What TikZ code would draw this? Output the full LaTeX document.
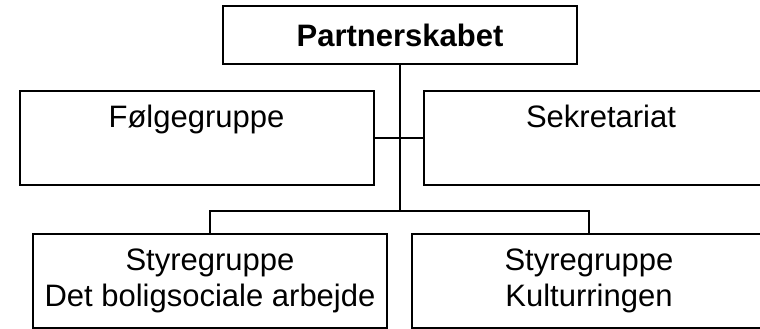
\documentclass[tikz,border=0pt]{standalone}
\usepackage{fontspec}
\setmainfont{Liberation Sans}
\usetikzlibrary{positioning}

\begin{document}
\begin{tikzpicture}[x=1pt,y=-1pt,line width=2pt,
    orgbox/.style={draw,rectangle,inner sep=0pt,minimum width=354pt,
        font=\fontsize{31}{36}\selectfont},
    highbox/.style={orgbox,text height=36pt,text depth=58pt},
    lowbox/.style={orgbox,align=center,minimum height=94pt}]
    \useasboundingbox (0,0) rectangle (760,329);

    \node[orgbox,minimum height=58pt,font=\fontsize{31}{36}\selectfont\bfseries] (part) at (400,35) {Partnerskabet};

    \node[highbox] (follow) at (196.5,138) {Følgegruppe};
    \node[highbox] (sek) at (601,138) {Sekretariat};

    \node[lowbox] (boligstyr) at (210,281) {Styregruppe\\Det boligsociale arbejde};
    \node[lowbox] (kulturstyr) at (589,281) {Styregruppe\\Kulturringen};

    \coordinate (fork) at (400,211);
    \draw (part.south) -- (fork);
    \draw (follow.east) -- (sek.west);
    \draw (fork) -| (boligstyr.north);
    \draw (fork) -| (kulturstyr.north);
\end{tikzpicture}
\end{document}
